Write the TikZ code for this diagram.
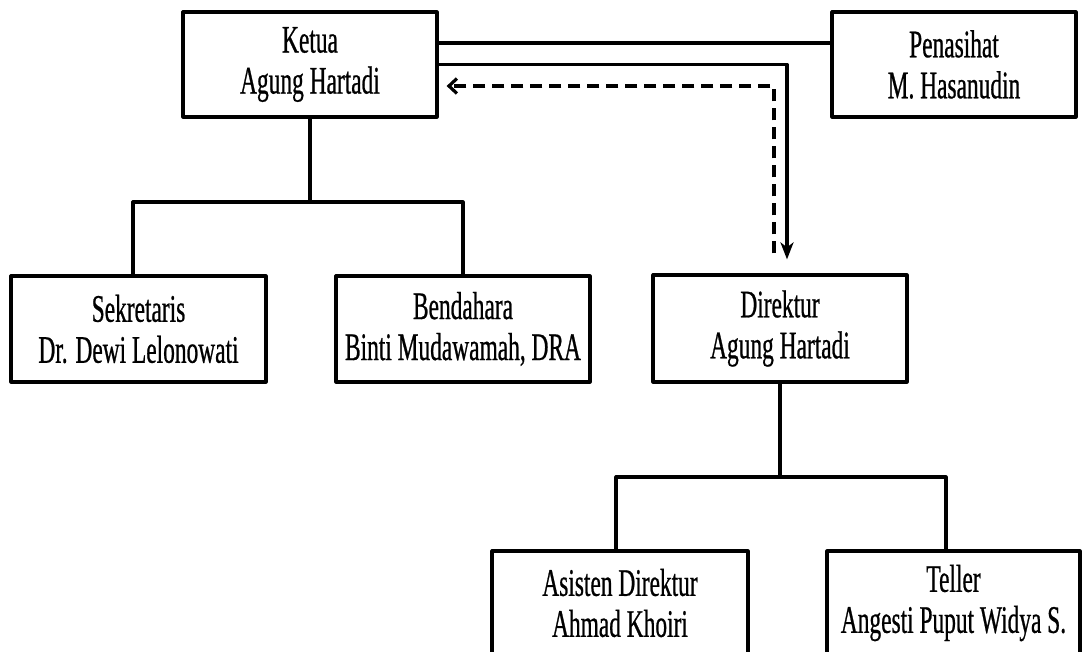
\documentclass[tikz,border=0pt]{standalone}
\usepackage{fontspec}
\setmainfont{Liberation Serif}[FakeStretch=0.6, FakeBold=0.6]
\usetikzlibrary{arrows.meta}
\begin{document}
\begin{tikzpicture}[x=1pt,y=-1pt,
  line width=3.2pt, line join=round,
  orgbox/.style={draw, rectangle, inner sep=0pt, align=center,
    font=\fontsize{39}{41}\selectfont},
  conn/.style={draw, line width=3.2pt},
  dashconn/.style={draw, line width=3.2pt, dash pattern=on 12pt off 7pt}]
\useasboundingbox (0,0) rectangle (1082,652);
\fill[white] (0,0) rectangle (1082,652);
\clip (0,0) rectangle (1082,652);

\node[orgbox, minimum width=254pt, minimum height=105pt] (ketua) at (310,64.5) {Ketua\\Agung Hartadi};
\node[orgbox, minimum width=244pt, minimum height=105pt] (pen) at (954,64.5) {Penasihat\\M. Hasanudin};
\node[orgbox, minimum width=255pt, minimum height=106pt] (sek) at (138.5,329) {Sekretaris\\Dr. Dewi Lelonowati};
\node[orgbox, minimum width=254pt, minimum height=106pt] (ben) at (463,329) {Bendahara\\Binti Mudawamah, DRA};
\node[orgbox, minimum width=254pt, minimum height=107pt] (dir) at (780,328.5) {Direktur\\Agung Hartadi};
\node[orgbox, minimum width=256pt, minimum height=104pt] (asi) at (620,603) {Asisten Direktur\\Ahmad Khoiri};
\node[orgbox, minimum width=253pt, minimum height=104pt] (tel) at (953.5,603) {Teller\\Angesti Puput Widya S.};

% Ketua tree
\coordinate (j1) at (310,202);
\draw[conn] (ketua.south) -- (j1);
\draw[conn] ([xshift=-5.5pt]sek.north) |- (j1) -| (ben.north);

% Direktur tree
\coordinate (j2) at (781,477);
\draw[conn] (dir.south) -- (dir.south |- j2);
\draw[conn] ([xshift=-4pt]asi.north) |- (j2) -| ([xshift=-7.5pt]tel.north);

% Ketua - Penasihat
\draw[conn] ([yshift=21.5pt]ketua.east) -- ([yshift=21.5pt]ketua.east -| pen.west);

% Ketua -> Direktur
\draw[conn, -{Stealth[length=17pt, width=13pt, inset=5pt]}]
  (ketua.east) -| ([xshift=7pt,yshift=14pt]dir.north);

% Direktur --> Ketua (dashed)
\draw[dashconn, -{Straight Barb[length=8pt, width=15pt]}]
  ([xshift=-6pt,yshift=20pt]dir.north) |- ([xshift=8pt,yshift=-21.5pt]ketua.east);
\end{tikzpicture}
\end{document}
